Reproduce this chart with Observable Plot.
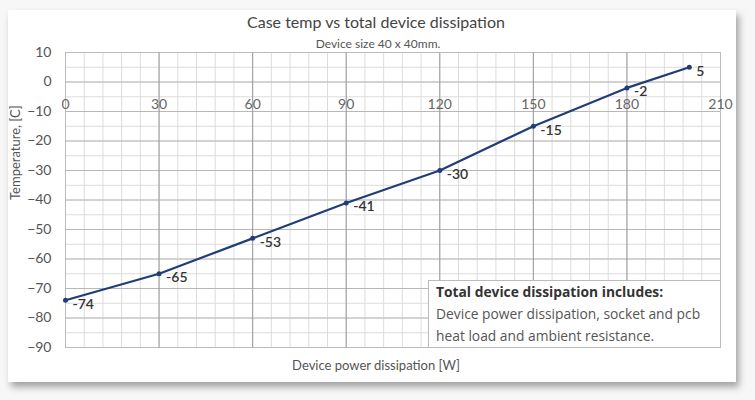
<!DOCTYPE html>
<html>
<head>
<meta charset="utf-8">
<script src="https://cdn.jsdelivr.net/npm/d3@7"></script>
<script src="https://cdn.jsdelivr.net/npm/@observablehq/plot@0.6"></script>
<style>
  html, body { margin: 0; padding: 0; background: #f7f7f7; }
  #wrap { position: relative; width: 755px; height: 400px; overflow: hidden; font-family: Lato, "Open Sans", sans-serif; }
  #card { position: absolute; left: 8px; top: 10px; width: 728px; height: 372px; background: #fff; box-shadow: 3px 5px 7px rgba(0,0,0,0.35); }
  #chart { position: absolute; left: 0; top: 0; }
  #note { position: absolute; left: 428px; top: 280px; width: 292px; height: 67px; background: #fff; border-left: 1px solid #bbb; border-top: 1px solid #bbb; box-sizing: border-box; padding: 0 0 0 7px; font-family: "Open Sans", sans-serif; font-size: 13.8px; line-height: 22px; color: #555; white-space: nowrap; }
  #note b { color: #333; font-weight: 700; }
</style>
</head>
<body>
<div id="wrap">
  <div id="card"></div>
  <div id="chart"></div>
  <div id="note"><b>Total device dissipation includes:</b><br>Device power dissipation, socket and pcb<br>heat load and ambient resistance.</div>
</div>
<script>
const power = [0, 30, 60, 90, 120, 150, 180, 200];
const temp = [-74, -65, -53, -41, -30, -15, -2, 5];
const xTicks = [0, 30, 60, 90, 120, 150, 180, 210];
const yTicks = [10, 0, -10, -20, -30, -40, -50, -60, -70, -80, -90];
const xMinor = d3.range(0, 211, 6);
const yMinor = d3.range(-90, 11, 5);
const title = "Case temp vs total device dissipation";
const subtitle = "Device size 40 x 40mm.";
const xLabel = "Device power dissipation [W]";
const yLabel = "Temperature, [C]";

const data = power.map((p, i) => ({power: p, temp: temp[i]}));

const chart = Plot.plot({
  width: 755,
  height: 400,
  marginLeft: 65,
  marginRight: 35,
  marginTop: 52,
  marginBottom: 53,
  style: {background: "transparent", fontFamily: "Lato, 'Open Sans', sans-serif", fontSize: "13px", color: "#555"},
  x: {domain: [0, 210], axis: null},
  y: {domain: [-90, 10], ticks: yTicks, tickSize: 0, tickPadding: 14, label: null},
  marks: [
    Plot.ruleX(xMinor, {stroke: "#dcdcdc", strokeWidth: 1}),
    Plot.ruleY(yMinor, {stroke: "#dcdcdc", strokeWidth: 1}),
    Plot.ruleY(yTicks, {stroke: "#b8b8b8", strokeWidth: 1}),
    Plot.ruleX(xTicks, {stroke: "#999", strokeWidth: 1}),
    Plot.frame({stroke: "#bbb"}),
    Plot.axisY(yTicks, {tickSize: 0, tickPadding: 14, fontSize: 14, fill: "#555", label: null}),
    Plot.text(xTicks, {x: d => d, y: 0, dy: 23, text: d => String(d), fontSize: 14, fill: "#666"}),
    Plot.line(data, {x: "power", y: "temp", stroke: "#1f3e78", strokeWidth: 2.2}),
    Plot.dot(data, {x: "power", y: "temp", r: 2.5, fill: "#1f3e78"}),
    Plot.text(data, {x: "power", y: "temp", text: d => String(d.temp), dx: 7, dy: 4, textAnchor: "start", fontSize: 14, fontWeight: 600, fill: "#333"}),
    Plot.text([title], {frameAnchor: "top", lineAnchor: "middle", dx: -17, dy: -30, fontSize: 16, fill: "#444"}),
    Plot.text([subtitle], {frameAnchor: "top", lineAnchor: "middle", dx: -15, dy: -8, fontSize: 12, fill: "#555"}),
    Plot.text([xLabel], {frameAnchor: "bottom", lineAnchor: "middle", dx: -17, dy: 18, fontSize: 13, fill: "#555"}),
    Plot.text([yLabel], {frameAnchor: "left", lineAnchor: "middle", rotate: -90, dx: -50, fontSize: 13, fill: "#555"})
  ]
});
document.getElementById("chart").appendChild(chart);
</script>
</body>
</html>
